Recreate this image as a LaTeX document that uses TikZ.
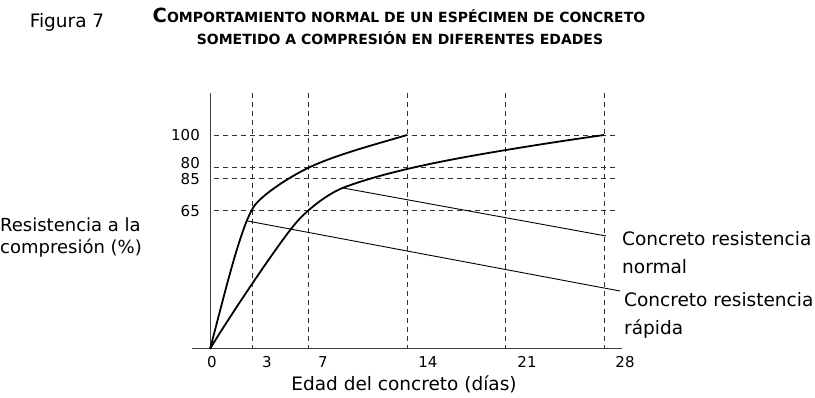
\documentclass[tikz,border=0pt]{standalone}
\usepackage{fontspec}
\setmainfont{DejaVu Sans}
\usetikzlibrary{positioning}

\newcommand{\bigsc}[1]{{\fontsize{19.5}{22}\selectfont #1}}
\newcommand{\smallsc}[1]{{\fontsize{14}{22}\selectfont #1}}

\begin{document}
\begin{tikzpicture}[x=1pt, y=-1pt,
   axis/.style={draw=black!75, line width=1pt},
   grid line/.style={draw=black!80, line width=0.8pt, dash pattern=on 5pt off 4pt},
   curve/.style={line width=1.8pt, line join=round},
   leader/.style={line width=0.9pt},
   tick label/.style={font=\fontsize{15}{18}\selectfont, inner sep=0pt},
   big label/.style={font=\fontsize{18.5}{28}\selectfont, inner sep=0pt, align=left}]
   \useasboundingbox (0,0) rectangle (815,398);

   % titles
   \node[font=\bfseries, inner sep=0pt] (title1) at (399,15) {\bigsc{C}\smallsc{OMPORTAMIENTO NORMAL DE UN ESPÉCIMEN DE CONCRETO}};
   \node[font=\bfseries, inner sep=0pt] (title2) at (400,38) {\smallsc{SOMETIDO A COMPRESIÓN EN DIFERENTES EDADES}};
   \node[big label] (fig) at (67,22) {Figura 7};

   % axes
   \coordinate (o) at (210,349);
   \coordinate (ytop) at (210,93);
   \coordinate (xl) at (192,349);
   \coordinate (xr) at (622,349);

   % dashed grid
   \foreach \d in {3,7,14,21,28}
      \draw[grid line] ({210+14.07*\d},93) -- ({210+14.07*\d},349);
   \foreach \y in {135,167,178,210}
      \draw[grid line] (214,\y) -- (615,\y);

   \draw[axis] (o) -- (ytop);
   \draw[axis] (xl) -- (xr);

   % ticks
   \foreach \v/\y in {100/135,80/163,85/179,65/211}
      \node[tick label, anchor=east] (y\v) at (200,\y) {\v};
   \foreach \v/\x in {0/212,3/267,7/323,14/428,21/527,28/625}
      \node[tick label] (x\v) at (\x,362) {\v};

   \node[big label] (xname) at (404,384) {Edad del concreto (días)};
   \node[big label, anchor=west, font=\fontsize{18}{22}\selectfont] (yname) at (0,238) {Resistencia a la\\compresión (\%)};

   % curves
   \draw[curve] (o) .. controls (223,301) and (241,223) .. (255,205)
                    .. controls (264.3,193.2) and (290,176.7) .. (308,168)
                    .. controls (335,154.9) and (378.3,143.6) .. (407,135);
   \draw[curve] (o) .. controls (225.2,323.2) and (275.8,247.1) .. (295,224)
                    .. controls (306.5,210.1) and (328.1,193.2) .. (345,187)
                    .. controls (391.9,169.7) and (456.7,158.2) .. (506,150)
                    .. controls (538.6,144.6) and (571.3,139.6) .. (604,135);

   % leaders and labels
   \coordinate (pn) at (343,188);
   \coordinate (pr) at (247.5,221);
   \coordinate (en) at (606,236);
   \coordinate (er) at (620,291);
   \node[big label, anchor=north west] (normal) at (622,231) {Concreto resistencia\\normal};
   \node[big label, anchor=north west] (rapida) at (624,292) {Concreto resistencia\\rápida};
   \draw[leader] (pn) -- (en);
   \draw[leader] (pr) -- (er);
\end{tikzpicture}
\end{document}
